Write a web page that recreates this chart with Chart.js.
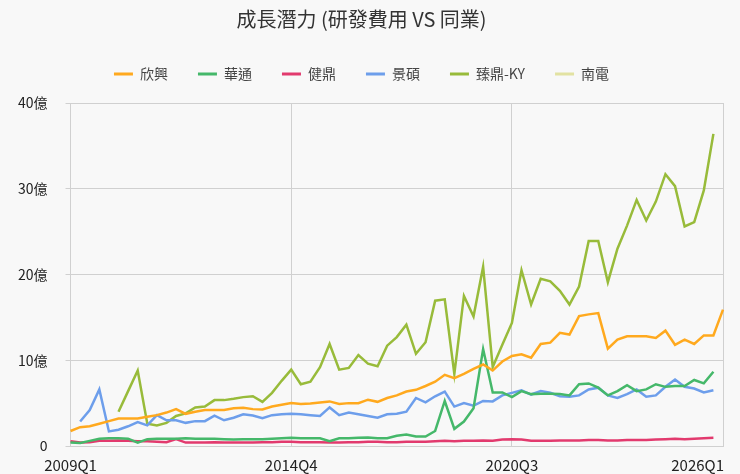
<!DOCTYPE html>
<html><head><meta charset="utf-8">
<script src="https://cdn.jsdelivr.net/npm/chart.js@4.4.1/dist/chart.umd.min.js"></script>
<style>html,body{margin:0;padding:0;background:#f8f8f8;}#wrap{width:740px;height:474px;position:relative;}</style>
</head><body><div id="wrap"><canvas id="c"></canvas></div>
<script>
const quarters = [
'2009Q1','2009Q2','2009Q3','2009Q4','2010Q1','2010Q2','2010Q3','2010Q4','2011Q1','2011Q2','2011Q3','2011Q4',
'2012Q1','2012Q2','2012Q3','2012Q4','2013Q1','2013Q2','2013Q3','2013Q4','2014Q1','2014Q2','2014Q3','2014Q4',
'2015Q1','2015Q2','2015Q3','2015Q4','2016Q1','2016Q2','2016Q3','2016Q4','2017Q1','2017Q2','2017Q3','2017Q4',
'2018Q1','2018Q2','2018Q3','2018Q4','2019Q1','2019Q2','2019Q3','2019Q4','2020Q1','2020Q2','2020Q3','2020Q4',
'2021Q1','2021Q2','2021Q3','2021Q4','2022Q1','2022Q2','2022Q3','2022Q4','2023Q1','2023Q2','2023Q3','2023Q4',
'2024Q1','2024Q2','2024Q3','2024Q4','2025Q1','2025Q2','2025Q3','2025Q4','2026Q1'];
const xTickLabels = ['2009Q1','2014Q4','2020Q3','2026Q1'];
const yTicks = [0,10,20,30,40];

const unimicron = [1.75,2.2,2.3,2.6,2.9,3.2,3.2,3.2,3.4,3.6, 3.9,4.3,3.75,4.0,4.2,4.2,4.2,4.4,4.45,4.3, 4.25,4.6,4.8,5.0,4.9,4.95,5.07,5.2,4.9,5.0, 5.0,5.4,5.15,5.6,5.9,6.35,6.55,7.0,7.5,8.3, 7.9,8.4,9.0,9.5,8.8,9.85,10.5,10.7,10.3,11.9, 12.05,13.2,13.0,15.15,15.35,15.5,11.35,12.4,12.8,12.8, 12.8,12.6,13.45,11.8,12.4,11.9,12.9,12.9,15.9];
const compeq = [0.4,0.35,0.6,0.85,0.9,0.9,0.85,0.4,0.8,0.85, 0.85,0.85,0.9,0.85,0.85,0.85,0.8,0.75,0.8,0.8, 0.8,0.85,0.9,0.95,0.9,0.9,0.9,0.55,0.9,0.9, 0.95,1.0,0.9,0.9,1.2,1.35,1.1,1.1,1.75,5.25, 2.0,2.85,4.4,11.3,6.25,6.25,5.7,6.4,6.05,6.1, 6.1,6.05,5.9,7.2,7.3,6.8,5.9,6.4,7.1,6.4, 6.6,7.2,6.9,7.0,7.0,7.7,7.3,8.65,null];
const tripod = [0.55,0.4,0.45,0.6,0.6,0.65,0.6,0.55,0.55,0.5, 0.45,0.8,0.4,0.4,0.4,0.45,0.4,0.4,0.4,0.4, 0.45,0.45,0.5,0.5,0.45,0.45,0.45,0.4,0.4,0.45, 0.45,0.5,0.5,0.45,0.45,0.5,0.5,0.5,0.55,0.6, 0.55,0.6,0.6,0.65,0.6,0.75,0.8,0.75,0.6,0.6, 0.6,0.65,0.65,0.65,0.7,0.7,0.65,0.65,0.7,0.7, 0.7,0.75,0.8,0.85,0.8,0.85,0.9,0.95,null];
const kinsus = [null,2.85,4.2,6.6,1.7,1.9,2.3,2.8,2.4,3.6, 3.0,3.0,2.7,2.9,2.9,3.55,3.0,3.3,3.7,3.55, 3.25,3.6,3.7,3.75,3.7,3.6,3.5,4.5,3.6,3.9, 3.7,3.5,3.3,3.7,3.75,4.0,5.6,5.1,5.8,6.35, 4.6,5.0,4.7,5.25,5.2,5.9,6.2,6.5,6.0,6.4, 6.2,5.8,5.75,5.9,6.6,6.8,5.9,5.6,6.05,6.6, 5.75,5.9,6.9,7.75,6.9,6.7,6.25,6.5,null];
const zdt = [null,null,null,null,null,4.0,6.4,8.8,2.6,2.4, 2.7,3.5,3.8,4.5,4.6,5.35,5.35,5.5,5.7,5.8, 5.15,6.2,7.6,8.9,7.2,7.5,9.2,11.9,8.9,9.1, 10.6,9.6,9.3,11.7,12.7,14.15,10.75,12.1,16.95,17.1, 8.4,17.5,15.1,20.9,9.2,11.8,14.35,20.5,16.5,19.5, 19.2,18.1,16.5,18.6,23.9,23.9,19.1,23.0,25.7,28.7, 26.3,28.5,31.7,30.3,25.6,26.1,29.8,36.4,null];
const nanya = [];

const seriesNames = ['欣興','華通','健鼎','景碩','臻鼎-KY','南電'];
const seriesData = [unimicron, compeq, tripod, kinsus, zdt, nanya];
const seriesColors = ['#ffa91e','#45b86a','#e23a6e','#6d9eeb','#98bb3a','#e2e2a2'];

const GRID = '#d0d0d0';
const FONT = '"Noto Sans CJK TC","Noto Sans",sans-serif';

const lastLabelPlugin = {
  id: 'lastLabel',
  beforeDraw(chart) {
    try {
      const s = chart.scales.x;
      const items = s.getLabelItems();
      for (let i = items.length - 1; i >= 0; i--) {
        if (items[i].label) {
          items[i].options.textAlign = 'right';
          items[i].options.translation[0] = chart.chartArea.right + 1;
          break;
        }
      }
    } catch (e) {}
  }
};

const legendGapPlugin = {
  id: 'legendGap',
  beforeInit(chart) {
    const lg = chart.legend;
    if (!lg) return;
    const origFit = lg.fit;
    lg.fit = function() { origFit.call(this); this.height += 12; };
  }
};

new Chart(document.getElementById('c'), {
  type: 'line',
  data: {
    labels: quarters,
    datasets: seriesNames.map((n, k) => ({
      label: n,
      data: seriesData[k],
      borderColor: seriesColors[k],
      backgroundColor: seriesColors[k],
      borderWidth: 2.5,
      pointRadius: 0,
      pointHoverRadius: 0,
      tension: 0,
      fill: false
    }))
  },
  options: {
    responsive: true,
    maintainAspectRatio: false,
    animation: false,
    layout: { padding: { left: 0, right: 17, top: 0, bottom: -10 } },
    plugins: {
      title: {
        display: true,
        text: '成長潛力 (研發費用 VS 同業)',
        color: '#333',
        font: { family: FONT, size: 20, weight: 'normal' },
        padding: { top: 7, bottom: 6 }
      },
      legend: {
        labels: {
          color: '#444',
          font: { family: FONT, size: 14 },
          boxWidth: 19,
          boxHeight: 3,
          padding: 30,
          generateLabels(chart) {
            const items = Chart.defaults.plugins.legend.labels.generateLabels(chart);
            items.forEach(it => { it.lineWidth = 0; it.fillStyle = it.strokeStyle; });
            return items;
          }
        }
      },
      tooltip: { enabled: false }
    },
    scales: {
      x: {
        grid: {
          color: ctx => (ctx.tick && xTickLabels.includes(quarters[ctx.tick.value])) ? GRID : 'rgba(0,0,0,0)',
          drawTicks: false
        },
        border: { color: GRID },
        ticks: {
          autoSkip: false,
          maxRotation: 0,
          padding: 10,
          color: '#222',
          font: { family: FONT, size: 15 },
          callback: function(v) { const l = quarters[v]; return xTickLabels.includes(l) ? l : ''; }
        },
        afterFit: s => { s.paddingRight = 0; }
      },
      y: {
        min: yTicks[0],
        max: yTicks[yTicks.length - 1],
        grid: { color: GRID, tickLength: 5 },
        border: { color: GRID },
        afterBuildTicks: s => { s.ticks = yTicks.map(v => ({ value: v })); },
        ticks: {
          padding: 18,
          color: '#222',
          font: { family: FONT, size: 14 },
          callback: v => v === 0 ? '0' : v + '億'
        }
      }
    }
  },
  plugins: [lastLabelPlugin, legendGapPlugin]
});
</script></body></html>
